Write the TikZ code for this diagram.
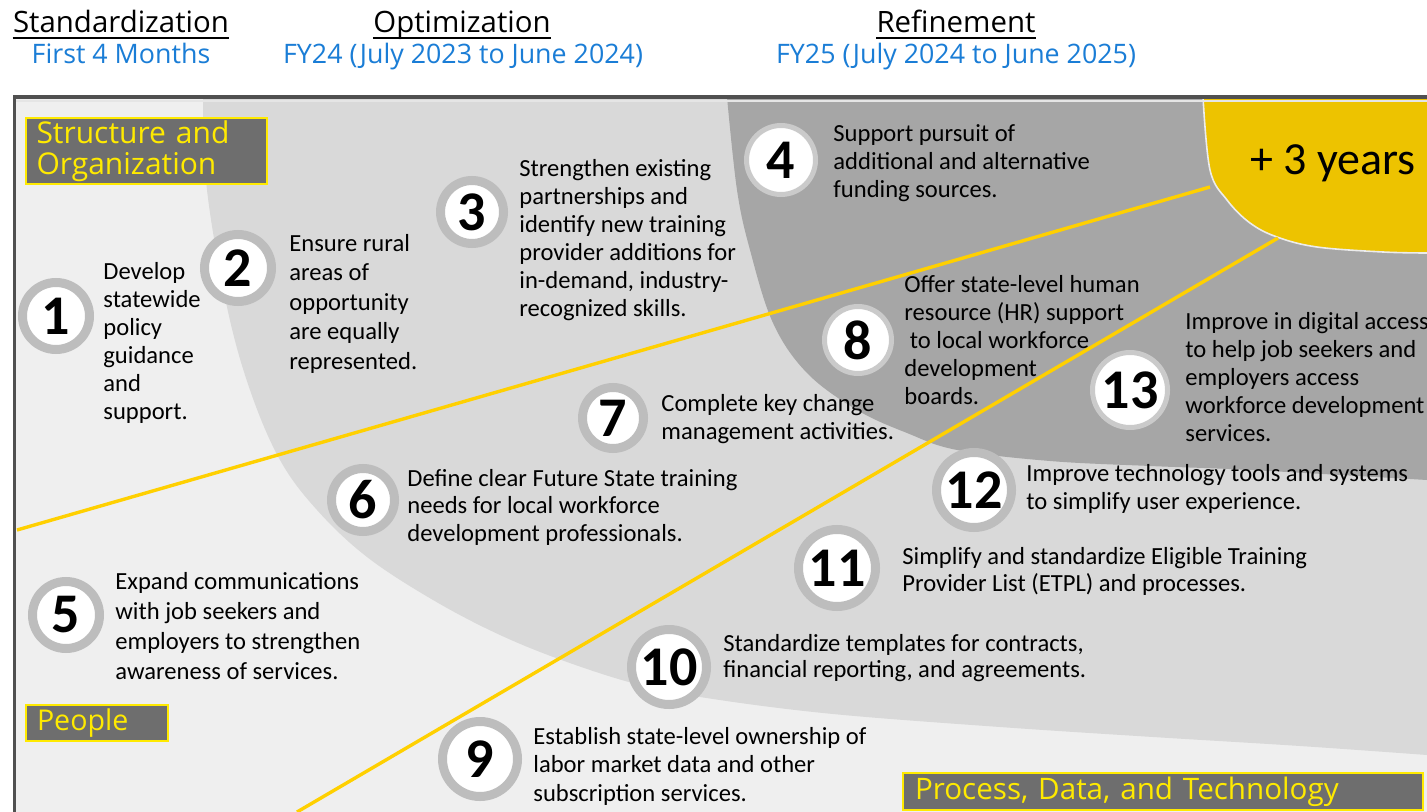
\documentclass[tikz,border=0pt]{standalone}
\usepackage{fontspec}
\setmainfont{Carlito}
\newfontfamily\hdrf{Open Sans}
\definecolor{lightbg}{HTML}{EFEFEF}
\definecolor{midband}{HTML}{D9D9D9}
\definecolor{darkband}{HTML}{A6A6A6}
\definecolor{yelarea}{HTML}{EDC300}
\definecolor{yline}{HTML}{FFD000}
\definecolor{framec}{HTML}{505050}
\definecolor{ringc}{HTML}{BDBDBD}
\definecolor{ringd}{HTML}{CACACA}
\definecolor{lblfill}{HTML}{6E6E6E}
\definecolor{lbltext}{HTML}{FFEA00}
\definecolor{subblue}{HTML}{1A7DD6}
\begin{document}
\begin{tikzpicture}[x=0.5pt,y=-0.5pt,
  txt/.style={anchor=west, align=left, inner sep=0pt, text=black,
    font=\fontsize{12.3}{14}\selectfont,
    execute at begin node=\strut, execute at end node=\strut},
  numc/.style={circle, fill=white, draw=ringc, line width=4.5pt, inner sep=0pt,
    font=\fontsize{28}{28}\bfseries\selectfont, minimum size=#1},
  numd/.style={circle, fill=white, draw=ringd, line width=2.5pt, inner sep=0pt,
    font=\fontsize{28}{28}\bfseries\selectfont, minimum size=#1},
  lbl/.style={fill=lblfill, draw=lbltext, line width=0.8pt, text=lbltext, align=left},
  title/.style={anchor=base, inner sep=0pt, font=\hdrf\fontsize{14.7}{15}\selectfont, text=black},
  subt/.style={anchor=base, inner sep=0pt, font=\hdrf\fontsize{13.4}{14}\selectfont, text=subblue},
  yl/.style={draw=yline, line width=1.7pt},
]
\useasboundingbox (0,0) rectangle (1427,812);
\clip (0,0) rectangle (1427,812);
\fill[white] (0,0) rectangle (1427,812);
% background bands
\fill[lightbg] (14,97) rectangle (1427,812);
\fill[midband] plot[smooth, tension=0.6] coordinates {(203,97) (207,190) (227,307) (250,390) (280,460) (317,510) (367,557) (433,600) (500,635) (567,662) (640,685) (713,699) (833,714) (1000,727) (1153,737) (1300,746) (1427,755)} -- (1427,97) -- cycle;
\fill[darkband] plot[smooth, tension=0.6] coordinates {(727,97) (737,190) (750,250) (773,323) (807,373) (857,410) (907,433) (957,450) (1050,461) (1150,466) (1250,470) (1427,480)} -- (1427,97) -- cycle;
\fill[yelarea] plot[smooth, tension=0.6] coordinates {(1203,97) (1210,170) (1227,200) (1250,223) (1277,237) (1317,247) (1383,252) (1427,253)} -- (1427,97) -- cycle;
\draw[white!85!gray, line width=0.8pt] plot[smooth, tension=0.6] coordinates {(1203,97) (1210,170) (1227,200) (1250,223) (1277,237) (1317,247) (1383,252) (1427,253)};
% yellow lines
\coordinate (l1a) at (17,530);
\coordinate (l1b) at (1210,187);
\coordinate (l2a) at (297,812);
\coordinate (l2b) at (1278,238);
\draw[yl] (l1a) -- (l1b);
\draw[yl] (l2a) -- (l2b);
% frame
\draw[framec, line width=1.5pt] (14,812) -- (14,97);
\draw[framec, line width=2pt] (13,97) -- (1427,97);
\draw[white!80!gray, line width=0.6pt] (16,101) -- (1427,101);
% headers
\node[title] (t1) at (121,33) {Standardization};
\node[title] (t2) at (462,33) {Optimization};
\node[title] (t3) at (956,33) {Refinement};
\draw[black, line width=0.6pt] ([yshift=-2.5pt]t1.base west) -- ([yshift=-2.5pt]t1.base east);
\draw[black, line width=0.6pt] ([yshift=-2.5pt]t2.base west) -- ([yshift=-2.5pt]t2.base east);
\draw[black, line width=0.6pt] ([yshift=-2.5pt]t3.base west) -- ([yshift=-2.5pt]t3.base east);
\node[subt] (s1) at (121,64) {First 4 Months};
\node[subt] (s2) at (463,64) {FY24 (July 2023 to June 2024)};
\node[subt] (s3) at (956,64) {FY25 (July 2024 to June 2025)};
% category labels
\node[lbl, inner xsep=5.25pt, inner ysep=0pt, text width=110pt, minimum height=33pt,
  font=\hdrf\fontsize{15}{15.5}\selectfont] (lso) at (146.5,151) {Structure and\\Organization};
\node[lbl, inner xsep=5.5pt, inner ysep=0pt, text width=60pt, minimum height=18pt,
  font=\hdrf\fontsize{14.3}{15}\selectfont] (lpe) at (97,723) {People};
\node[lbl, inner xsep=6pt, inner ysep=0pt, text width=248pt, minimum height=18.5pt,
  font=\hdrf\fontsize{14.8}{15}\selectfont] (lpd) at (1163,791.5) {Process, Data, and Technology};
% +3 years
\node[anchor=west, inner sep=0pt, font=\fontsize{23}{23}\selectfont] (yrs) at (1250,163) {+ 3 years};
% numbered circles
\node[numc=33.5pt] (c1) at (56,316) {1};
\node[numc=33.5pt] (c2) at (238,268) {2};
\node[numc=31.5pt] (c3) at (472,212) {3};
\node[numd=34.5pt] (c4) at (781,160) {4};
\node[numc=33.5pt] (c5) at (66,615) {5};
\node[numc=31.5pt] (c6) at (363,500) {6};
\node[numc=30.5pt] (c7) at (613,418) {7};
\node[numd=33.5pt] (c8) at (858,340) {8};
\node[numc=37.5pt] (c9) at (480,759) {9};
\node[numc=37.5pt] (c10) at (669,667) {10};
\node[numc=38.5pt] (c11) at (837,568) {11};
\node[numc=37.5pt] (c12) at (974,490) {12};
\node[numd=37.5pt] (c13) at (1130,390) {13};
% descriptions
\node[txt] (d1) at (103,345) {Develop\\statewide\\policy\\guidance\\and\\support.};
\node[txt, font=\fontsize{12.3}{14.75}\selectfont] (d2) at (289,306) {Ensure rural\\areas of\\opportunity\\are equally\\represented.};
\node[txt] (d3) at (519,242) {Strengthen existing\\partnerships and\\identify new training\\provider additions for\\in-demand, industry-\\recognized skills.};
\node[txt] (d4) at (833,165) {Support pursuit of\\additional and alternative\\funding sources.};
\node[txt] (d8) at (904,344) {Offer state-level human\\resource (HR) support\\\ to local workforce\\development\\boards.};
\node[txt] (d13) at (1185,381) {Improve in digital access\\to help job seekers and\\employers access\\workforce development\\services.};
\node[txt] (d7) at (661,421) {Complete key change\\management activities.};
\node[txt, font=\fontsize{12.3}{13.75}\selectfont] (d6) at (407,509.5) {Define clear Future State training\\needs for local workforce\\development professionals.};
\node[txt, font=\fontsize{12.3}{15}\selectfont] (d5) at (115,630) {Expand communications\\with job seekers and\\employers to strengthen\\awareness of services.};
\node[txt] (d12) at (1026,491) {Improve technology tools and systems\\to simplify user experience.};
\node[txt, font=\fontsize{12.3}{13.5}\selectfont] (d11) at (902,573.5) {Simplify and standardize Eligible Training\\Provider List (ETPL) and processes.};
\node[txt, font=\fontsize{12.3}{13}\selectfont] (d10) at (723,660) {Standardize templates for contracts,\\financial reporting, and agreements.};
\node[txt, font=\fontsize{12.3}{14.25}\selectfont] (d9) at (533,768.5) {Establish state-level ownership of\\labor market data and other\\subscription services.};
\end{tikzpicture}
\end{document}
